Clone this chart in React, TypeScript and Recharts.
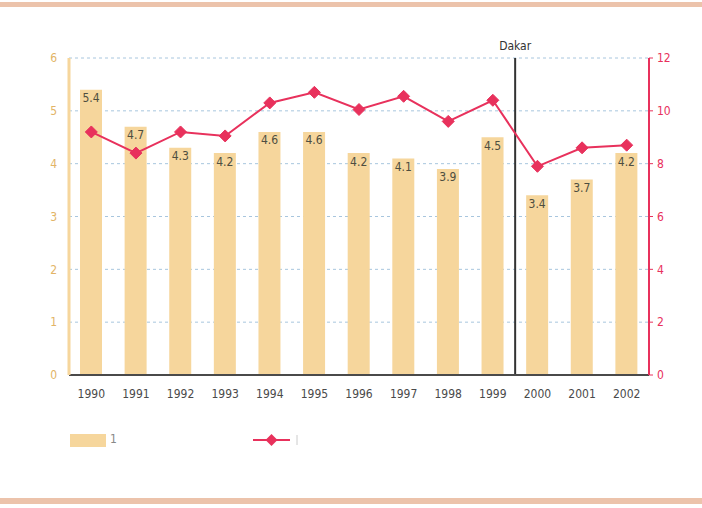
import React from 'react'
import {
  ComposedChart,
  Bar,
  Line,
  XAxis,
  YAxis,
  CartesianGrid,
  ReferenceLine,
  LabelList,
  Legend,
} from 'recharts'

const years = ['1990', '1991', '1992', '1993', '1994', '1995', '1996', '1997', '1998', '1999', '2000', '2001', '2002']
const barValues = [5.4, 4.7, 4.3, 4.2, 4.6, 4.6, 4.2, 4.1, 3.9, 4.5, 3.4, 3.7, 4.2]
const lineValues = [9.2, 8.4, 9.2, 9.05, 10.3, 10.7, 10.05, 10.55, 9.6, 10.4, 7.9, 8.6, 8.7]
const leftTicks = [0, 1, 2, 3, 4, 5, 6]
const rightTicks = [0, 2, 4, 6, 8, 10, 12]

const data = years.map((year, i) => ({ year, bar: barValues[i], line: lineValues[i] }))

const FONT = '"DejaVu Sans Condensed", "DejaVu Sans", sans-serif'
const TAN = '#f6d69c'
const TAN_TEXT = '#e2b466'
const RED = '#e8315c'
const GRAY = '#4a4a4a'
const txt = { fontFamily: FONT, fontStretch: 'condensed' as const, fontSize: 12 }

function Diamond({ cx, cy }: any) {
  if (cx == null || cy == null) return null
  const r = 6
  return (
    <polygon
      points={`${cx},${cy - r} ${cx + r},${cy} ${cx},${cy + r} ${cx - r},${cy}`}
      fill={RED}
      stroke={RED}
    />
  )
}

function LegendContent() {
  return (
    <div style={{ position: 'relative', height: 20, ...txt, color: '#888' }}>
      <div style={{ position: 'absolute', left: 70, top: 4, width: 36, height: 13, background: TAN }} />
      <span style={{ position: 'absolute', left: 110, top: 2 }}>1</span>
      <svg style={{ position: 'absolute', left: 252, top: 0 }} width={50} height={20}>
        <line x1={1} y1={10} x2={38} y2={10} stroke={RED} strokeWidth={2} />
        <polygon points="19.5,4 25.5,10 19.5,16 13.5,10" fill={RED} />
        <line x1={45} y1={5} x2={45} y2={15} stroke="#ccc" strokeWidth={1} />
      </svg>
    </div>
  )
}

export default function App() {
  return (
    <div style={{ position: 'absolute', left: 0, top: 0, width: 702, height: 508, background: '#fff' }}>
      <div style={{ position: 'absolute', left: 0, top: 2, width: 702, height: 5, background: '#ecc3ab' }} />
      <div style={{ position: 'absolute', left: 0, top: 498, width: 702, height: 6, background: '#ecc3ab' }} />
      <ComposedChart
        width={702}
        height={508}
        data={data}
        margin={{ top: 58, right: 20, bottom: 83, left: 29 }}
        barCategoryGap={0}
      >
        <CartesianGrid
          yAxisId="left"
          vertical={false}
          stroke="#a8c6de"
          strokeDasharray="3 3"
          horizontalValues={[1, 2, 3, 4, 5, 6]}
        />
        <XAxis
          dataKey="year"
          height={30}
          tickLine={false}
          axisLine={{ stroke: GRAY, strokeWidth: 2 }}
          tick={{ fill: GRAY, ...txt }}
          tickMargin={8}
          interval={0}
        />
        <YAxis
          yAxisId="left"
          orientation="left"
          domain={[0, 6]}
          ticks={leftTicks}
          width={40}
          tickLine={false}
          axisLine={{ stroke: TAN, strokeWidth: 3 }}
          tick={{ fill: TAN_TEXT, ...txt }}
          tickMargin={6}
        />
        <YAxis
          yAxisId="right"
          orientation="right"
          domain={[0, 12]}
          ticks={rightTicks}
          width={33}
          tickSize={4}
          tickLine={{ stroke: RED }}
          axisLine={{ stroke: RED, strokeWidth: 2 }}
          tick={{ fill: RED, ...txt }}
          tickMargin={4}
        />
        <Bar yAxisId="left" dataKey="bar" fill={TAN} barSize={22} isAnimationActive={false}>
          <LabelList
            dataKey="bar"
            position="insideTop"
            offset={4}
            style={{ fill: '#4e4e40', ...txt }}
          />
        </Bar>
        <ReferenceLine
          yAxisId="left"
          x="2000"
          position="start"
          stroke="#333"
          strokeWidth={2}
          label={{ value: 'Dakar', position: 'top', fill: '#333', ...txt, offset: 8 }}
        />
        <Line
          yAxisId="right"
          dataKey="line"
          stroke={RED}
          strokeWidth={2}
          dot={<Diamond />}
          activeDot={false}
          isAnimationActive={false}
        />
        <Legend
          verticalAlign="bottom"
          content={<LegendContent />}
          wrapperStyle={{ left: 0, top: 430, width: 702 }}
        />
      </ComposedChart>
    </div>
  )
}
